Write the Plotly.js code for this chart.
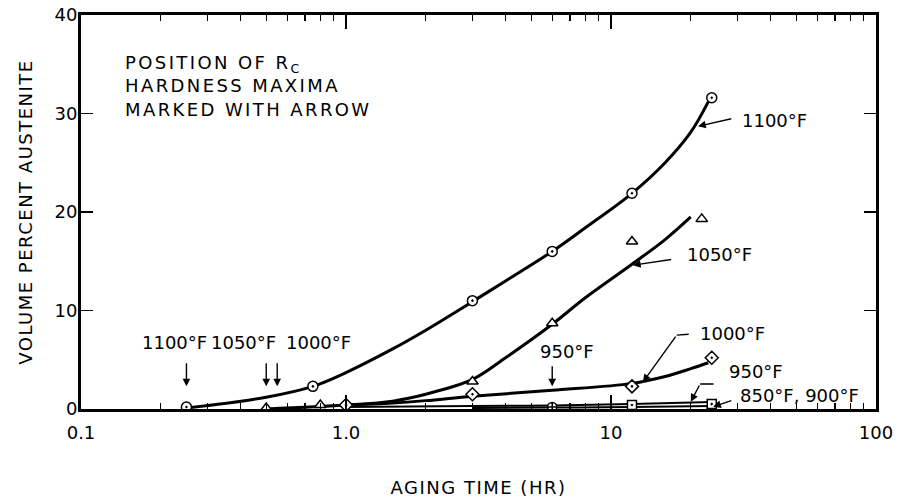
<!DOCTYPE html>
<html>
<head>
<meta charset="utf-8">
<script src="https://cdn.plot.ly/plotly-3.0.1.min.js"></script>
<style>
  html, body { margin: 0; padding: 0; background: #fff; }
  #chart { width: 904px; height: 502px; }
  .main-svg .xtitle, .main-svg .ytitle { letter-spacing: 1.5px; }
  .main-svg .annotation[data-index="0"] text { letter-spacing: 2.4px; }
</style>
</head>
<body>
<div id="chart"></div>
<script>
// ---- measured data points (aging time in hr, volume % austenite) ----
const t1100 = [0.25, 0.75, 3, 6, 12, 24];
const v1100 = [0.2, 2.3, 11.0, 16.0, 21.9, 31.6];
const t1050 = [0.5, 0.8, 3, 6, 12, 22];
const v1050 = [0.1, 0.4, 2.8, 8.7, 17.0, 19.3];
const t1000 = [1.0, 3, 12, 24];
const v1000 = [0.4, 1.5, 2.3, 5.2];
const t950 = [6, 24];
const v950 = [0.2, 0.1];
const t850 = [12, 24];
const v850 = [0.4, 0.5];

// ---- hand-drawn fitted curves ----
const c1100x = [0.25, 0.5, 0.75, 1.0, 1.5, 2.0, 3.0, 4.0, 6.0, 8.0, 12, 16, 20, 23.3];
const c1100y = [0.1, 1.2, 2.3, 3.7, 6.1, 8.0, 10.9, 13.0, 16.0, 18.4, 21.9, 25.0, 28.1, 31.2];
const c1050x = [0.5, 1.0, 1.5, 2.0, 3.0, 4.0, 6.0, 8.0, 12, 16, 20];
const c1050y = [0.0, 0.4, 0.8, 1.5, 3.0, 5.2, 8.6, 11.3, 14.7, 17.2, 19.5];
const c1000x = [1.0, 1.5, 2.0, 3.0, 6.0, 12, 16, 20, 23.3];
const c1000y = [0.4, 0.6, 0.85, 1.3, 1.9, 2.6, 3.3, 4.1, 4.7];
const c950x = [1.0, 3.0, 6.0, 12, 24];
const c950y = [0.2, 0.3, 0.35, 0.5, 0.7];
const c850x = [3.0, 6.0, 12, 24];
const c850y = [0.1, 0.15, 0.2, 0.3];

// ---- axis ticks ----
const xTickVals = [0.1, 1, 10, 100];
const xTickText = ['0.1', '1.0', '10', '100'];
const xMinorVals = [0.2,0.3,0.4,0.5,0.6,0.7,0.8,0.9,2,3,4,5,6,7,8,9,20,30,40,50,60,70,80,90];
const yTickVals = [0, 10, 20, 30, 40];

// ---- maxima arrows (time of hardness maximum) ----
const maxTimes = [0.25, 0.5, 0.55, 6];
const maxLabels = ['1100°F', '1050°F', '1000°F', '950°F'];

const L = Math.log10;
const FONT = 'DejaVu Sans, Arial, sans-serif';
const BLK = '#000';

function curve(x, y) {
  return { x: x, y: y, type: 'scatter', mode: 'lines', hoverinfo: 'skip',
           line: { color: BLK, width: 3, shape: 'spline', smoothing: 1 }, showlegend: false };
}
function thin(x, y) {
  return { x: x, y: y, type: 'scatter', mode: 'lines', hoverinfo: 'skip',
           line: { color: BLK, width: 2, shape: 'spline' }, showlegend: false };
}
function pts(x, y, sym, size) {
  return { x: x, y: y, type: 'scatter', mode: 'markers', showlegend: false,
           marker: { symbol: sym, size: size, color: '#fff', line: { color: BLK, width: 1.5 } } };
}

const traces = [
  curve(c1100x, c1100y),
  curve(c1050x, c1050y),
  curve(c1000x, c1000y),
  thin(c950x, c950y),
  thin(c850x, c850y),
  pts(t1100, v1100, 'circle-dot', 10),
  pts(t1050, v1050, 'triangle-up', 10),
  pts(t1000, v1000, 'diamond-dot', 10),
  pts(t950, v950, 'circle-cross', 9),
  pts(t850, v850, 'square-dot', 9)
];

function label(x, y, text, xanchor) {
  return { x: L(x), y: y, xref: 'x', yref: 'y', text: text, showarrow: false,
           xanchor: xanchor || 'left', yanchor: 'middle',
           font: { family: FONT, size: 18, color: BLK } };
}
function arrow(x0, y0, x1, y1, head) {
  return { x: L(x1), y: y1, ax: L(x0), ay: y0, xref: 'x', yref: 'y', axref: 'x', ayref: 'y',
           text: '', showarrow: true, arrowhead: head === undefined ? 2 : head,
           arrowsize: 1.1, arrowwidth: 1.4, arrowcolor: BLK, standoff: 0, startstandoff: 0 };
}

const annotations = [
  { xref: 'paper', yref: 'paper', x: 0.053, y: 0.819, xanchor: 'left', yanchor: 'middle',
    align: 'left', showarrow: false,
    text: 'POSITION OF R<sub>C</sub><br>HARDNESS MAXIMA<br>MARKED WITH ARROW',
    font: { family: FONT, size: 18, color: BLK } },
  // labels at right of curves
  label(30.7, 29.3, '1100°F'),
  label(19.0, 15.7, '1050°F'),
  label(21.3, 7.7, '1000°F'),
  label(27.4, 3.8, '950°F'),
  label(30.1, 1.4, '850°F, 900°F'),
  // leaders
  arrow(28.8, 29.5, 21.3, 28.7),
  arrow(17.1, 15.2, 12.1, 14.6),
  arrow(19.9, 7.6, 17.7, 7.5, 0),
  arrow(17.7, 7.5, 13.2, 2.74),
  arrow(24.7, 2.54, 21.7, 2.54, 0),
  arrow(21.7, 2.54, 20.0, 0.74),
  arrow(28.8, 0.91, 24.3, 0.23),
  // maxima labels
  label(0.226, 6.8, maxLabels[0], 'center'),
  label(0.41, 6.8, maxLabels[1], 'center'),
  label(0.79, 6.8, maxLabels[2], 'center'),
  label(6.8, 5.8, maxLabels[3], 'center'),
  arrow(maxTimes[0], 4.8, maxTimes[0], 2.3),
  arrow(maxTimes[1], 4.8, maxTimes[1], 2.3),
  arrow(maxTimes[2], 4.8, maxTimes[2], 2.3),
  arrow(maxTimes[3], 4.5, maxTimes[3], 2.3)
];

const layout = {
  width: 904, height: 502,
  margin: { l: 81, r: 28, t: 15, b: 93 },
  paper_bgcolor: '#fff', plot_bgcolor: '#fff',
  font: { family: FONT, size: 18, color: BLK },
  showlegend: false,
  xaxis: {
    type: 'log', range: [-1, 2],
    tickvals: xTickVals, ticktext: xTickText,
    ticks: 'inside', ticklen: 14, tickwidth: 1.5, tickcolor: BLK,
    minor: { tickvals: xMinorVals, ticks: 'inside', ticklen: 6, tickwidth: 1.2, tickcolor: BLK, showgrid: false },
    showline: true, linewidth: 3, linecolor: BLK, mirror: 'ticks',
    showgrid: false, zeroline: false,
    ticklabelstandoff: 5,
    tickfont: { family: FONT, size: 18, color: BLK },
    title: { text: 'AGING TIME (HR)', standoff: 40, font: { family: FONT, size: 18, color: BLK } }
  },
  yaxis: {
    range: [0, 40], tickvals: yTickVals,
    ticks: 'inside', ticklen: 12, tickwidth: 1.5, tickcolor: BLK,
    showline: true, linewidth: 3, linecolor: BLK, mirror: 'ticks',
    showgrid: false, zeroline: false,
    ticklabelstandoff: -3,
    tickfont: { family: FONT, size: 18, color: BLK },
    title: { text: 'VOLUME PERCENT AUSTENITE', standoff: 18, font: { family: FONT, size: 18, color: BLK } }
  },
  annotations: annotations
};

Plotly.newPlot('chart', traces, layout, { staticPlot: true, displayModeBar: false });
</script>
</body>
</html>
